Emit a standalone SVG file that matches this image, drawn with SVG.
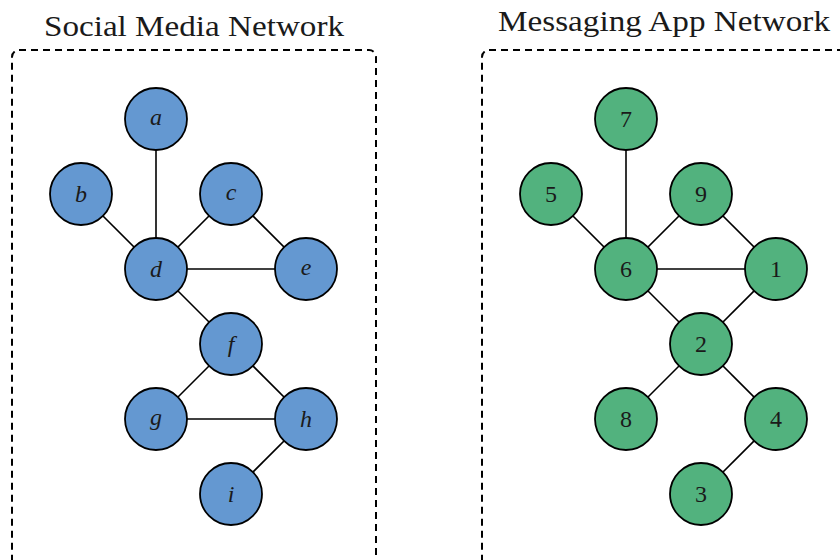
<svg xmlns="http://www.w3.org/2000/svg" width="840" height="560" viewBox="0 0 840 560">
<style>
.box{fill:none;stroke:#000;stroke-width:2;stroke-dasharray:7,5}
.title{font-family:"Liberation Serif","DejaVu Serif",serif;font-size:30px;fill:#1a1a1a;text-anchor:middle}
.edge{stroke:#000;stroke-width:1.6}
.b{fill:#6498D1;stroke:#000;stroke-width:1.8}
.g{fill:#52B27E;stroke:#000;stroke-width:1.8}
.lab{font-family:"Liberation Serif","DejaVu Serif",serif;font-size:24px;fill:#1a1a1a;text-anchor:middle;dominant-baseline:central}
.it{font-style:italic}
</style>
<rect class="box" x="12" y="50" width="364" height="560" rx="7"/>
<rect class="box" x="482" y="50" width="400" height="560" rx="7"/>
<text class="title" x="194" y="36" textLength="300" lengthAdjust="spacingAndGlyphs">Social Media Network</text>
<text class="title" x="664" y="31" textLength="332" lengthAdjust="spacingAndGlyphs">Messaging App Network</text>
<g id="edges">
<line class="edge" x1="156" y1="119" x2="156" y2="269"/>
<line class="edge" x1="81" y1="194" x2="156" y2="269"/>
<line class="edge" x1="231" y1="194" x2="156" y2="269"/>
<line class="edge" x1="231" y1="194" x2="306" y2="269"/>
<line class="edge" x1="156" y1="269" x2="306" y2="269"/>
<line class="edge" x1="156" y1="269" x2="231" y2="344"/>
<line class="edge" x1="231" y1="344" x2="156" y2="419"/>
<line class="edge" x1="231" y1="344" x2="306" y2="419"/>
<line class="edge" x1="156" y1="419" x2="306" y2="419"/>
<line class="edge" x1="306" y1="419" x2="231" y2="494"/>
<line class="edge" x1="626" y1="119" x2="626" y2="269"/>
<line class="edge" x1="551" y1="194" x2="626" y2="269"/>
<line class="edge" x1="701" y1="194" x2="626" y2="269"/>
<line class="edge" x1="701" y1="194" x2="776" y2="269"/>
<line class="edge" x1="626" y1="269" x2="776" y2="269"/>
<line class="edge" x1="626" y1="269" x2="701" y2="344"/>
<line class="edge" x1="776" y1="269" x2="701" y2="344"/>
<line class="edge" x1="701" y1="344" x2="626" y2="419"/>
<line class="edge" x1="701" y1="344" x2="776" y2="419"/>
<line class="edge" x1="776" y1="419" x2="701" y2="494"/>
</g>
<g id="a"><circle class="b" cx="156" cy="119" r="31"/><text class="lab it" x="156" y="117">a</text></g>
<g id="b"><circle class="b" cx="81" cy="194" r="31"/><text class="lab it" x="81" y="194">b</text></g>
<g id="c"><circle class="b" cx="231" cy="194" r="31"/><text class="lab it" x="231" y="192">c</text></g>
<g id="d"><circle class="b" cx="156" cy="269" r="31"/><text class="lab it" x="156" y="269">d</text></g>
<g id="e"><circle class="b" cx="306" cy="269" r="31"/><text class="lab it" x="306" y="267">e</text></g>
<g id="f"><circle class="b" cx="231" cy="344" r="31"/><text class="lab it" x="231" y="344">f</text></g>
<g id="g"><circle class="b" cx="156" cy="419" r="31"/><text class="lab it" x="156" y="417">g</text></g>
<g id="h"><circle class="b" cx="306" cy="419" r="31"/><text class="lab it" x="306" y="419">h</text></g>
<g id="i"><circle class="b" cx="231" cy="494" r="31"/><text class="lab it" x="231" y="494">i</text></g>
<g id="n7"><circle class="g" cx="626" cy="119" r="31"/><text class="lab" x="626" y="119">7</text></g>
<g id="n5"><circle class="g" cx="551" cy="194" r="31"/><text class="lab" x="551" y="194">5</text></g>
<g id="n9"><circle class="g" cx="701" cy="194" r="31"/><text class="lab" x="701" y="194">9</text></g>
<g id="n6"><circle class="g" cx="626" cy="269" r="31"/><text class="lab" x="626" y="269">6</text></g>
<g id="n1"><circle class="g" cx="776" cy="269" r="31"/><text class="lab" x="776" y="269">1</text></g>
<g id="n2"><circle class="g" cx="701" cy="344" r="31"/><text class="lab" x="701" y="344">2</text></g>
<g id="n8"><circle class="g" cx="626" cy="419" r="31"/><text class="lab" x="626" y="419">8</text></g>
<g id="n4"><circle class="g" cx="776" cy="419" r="31"/><text class="lab" x="776" y="419">4</text></g>
<g id="n3"><circle class="g" cx="701" cy="494" r="31"/><text class="lab" x="701" y="494">3</text></g>
</svg>
